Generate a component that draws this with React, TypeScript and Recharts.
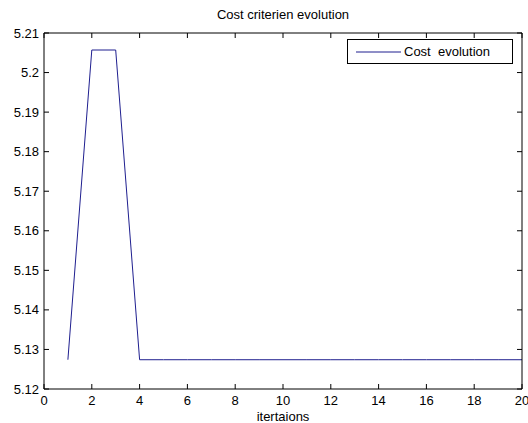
import React from 'react';
import { LineChart, Line, XAxis, YAxis } from 'recharts';

// Iteration index and the cost criterion recorded at each iteration
const iterations = [1, 2, 3, 4, 5, 6, 7, 8, 9, 10, 11, 12, 13, 14, 15, 16, 17, 18, 19, 20];
const costValues = [
  5.1274, 5.2057, 5.2057, 5.1274, 5.1274, 5.1274, 5.1274, 5.1274, 5.1274, 5.1274,
  5.1274, 5.1274, 5.1274, 5.1274, 5.1274, 5.1274, 5.1274, 5.1274, 5.1274, 5.1274,
];
const xTicks = [0, 2, 4, 6, 8, 10, 12, 14, 16, 18, 20];
const yTicks = [5.12, 5.13, 5.14, 5.15, 5.16, 5.17, 5.18, 5.19, 5.2, 5.21];
const seriesName = 'Cost  evolution';

const data = iterations.map((it, i) => ({ it, cost: costValues[i] }));

const FONT = '"Liberation Sans", Arial, sans-serif';
const TICK_LEN = 5;
const LINE_COLOR = '#1f1f8f';

// Tick marks point into the plot box; labels only on bottom and left
const BottomTick = (props: any) => {
  const { x, y, payload } = props;
  return (
    <g>
      <path d={`M${x},${y}V${y - TICK_LEN}`} stroke="#000" strokeWidth={1} fill="none" />
      <text x={x} y={y + 16} textAnchor="middle" fontSize={13} fontFamily={FONT} fill="#000">
        {payload.value}
      </text>
    </g>
  );
};

const TopTick = (props: any) => {
  const { x, y } = props;
  return <path d={`M${x},${y}V${y + TICK_LEN}`} stroke="#000" strokeWidth={1} fill="none" />;
};

const LeftTick = (props: any) => {
  const { x, y, payload } = props;
  return (
    <g>
      <path d={`M${x},${y}H${x + TICK_LEN}`} stroke="#000" strokeWidth={1} fill="none" />
      <text x={x - 5} y={y + 4.5} textAnchor="end" fontSize={13} fontFamily={FONT} fill="#000">
        {String(payload.value)}
      </text>
    </g>
  );
};

const RightTick = (props: any) => {
  const { x, y } = props;
  return <path d={`M${x},${y}H${x - TICK_LEN}`} stroke="#000" strokeWidth={1} fill="none" />;
};

const LegendBox = () => (
  <div
    style={{
      position: 'absolute',
      left: 347,
      top: 39,
      border: '1px solid #000',
      background: '#fff',
      width: 166,
      height: 25,
      boxSizing: 'border-box',
      display: 'flex',
      alignItems: 'center',
      fontFamily: FONT,
      fontSize: 13,
      color: '#000',
    }}
  >
    <svg width={56} height={10} style={{ display: 'block' }}>
      <line x1={8} x2={53} y1={5} y2={5} stroke={LINE_COLOR} strokeWidth={1} />
    </svg>
    <span style={{ whiteSpace: 'pre', marginLeft: 0 }}>{seriesName}</span>
  </div>
);

export default function App() {
  return (
    <div style={{ position: 'absolute', left: 0, top: 0, width: 528, height: 423, background: '#fff' }}>
      <LineChart
        width={528}
        height={423}
        data={data}
        margin={{ top: 32, right: 5, bottom: 0, left: 0 }}
      >
        <text x={283} y={19} textAnchor="middle" fontSize={13} fontFamily={FONT} fill="#000">
          Cost criterien evolution
        </text>
        <XAxis
          xAxisId="bottom"
          dataKey="it"
          type="number"
          domain={[0, 20]}
          ticks={xTicks}
          interval={0}
          height={34}
          tickSize={0}
          tickMargin={0}
          tickLine={false}
          axisLine={{ stroke: '#000' }}
          tick={<BottomTick />}
          label={{ value: 'itertaions', position: 'insideBottom', offset: 2, fontSize: 13, fontFamily: FONT, fill: '#000' }}
        />
        <XAxis
          xAxisId="top"
          orientation="top"
          dataKey="it"
          type="number"
          domain={[0, 20]}
          ticks={xTicks}
          interval={0}
          height={1}
          tickSize={0}
          tickMargin={0}
          tickLine={false}
          axisLine={{ stroke: '#000' }}
          tick={<TopTick />}
        />
        <YAxis
          yAxisId="left"
          type="number"
          domain={[5.12, 5.21]}
          ticks={yTicks}
          interval={0}
          width={44}
          tickSize={0}
          tickMargin={0}
          tickLine={false}
          axisLine={{ stroke: '#000' }}
          tick={<LeftTick />}
          allowDataOverflow
        />
        <YAxis
          yAxisId="right"
          orientation="right"
          type="number"
          domain={[5.12, 5.21]}
          ticks={yTicks}
          interval={0}
          width={1}
          tickSize={0}
          tickMargin={0}
          tickLine={false}
          axisLine={{ stroke: '#000' }}
          tick={<RightTick />}
          allowDataOverflow
        />
        <Line
          xAxisId="bottom"
          yAxisId="left"
          type="linear"
          dataKey="cost"
          name={seriesName}
          stroke={LINE_COLOR}
          strokeWidth={1}
          dot={false}
          isAnimationActive={false}
        />
      </LineChart>
      <LegendBox />
    </div>
  );
}
